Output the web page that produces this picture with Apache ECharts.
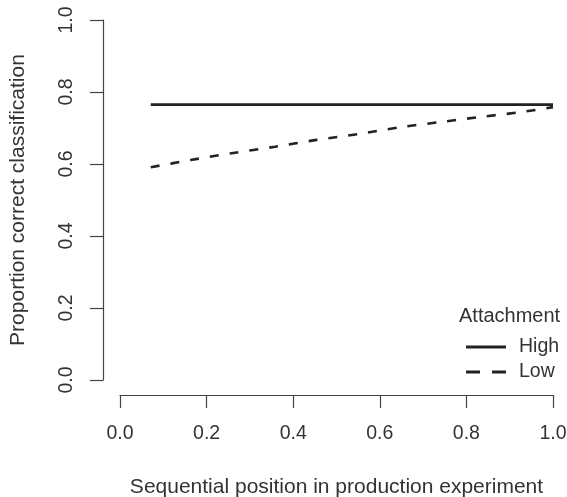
<!DOCTYPE html>
<html>
<head>
<meta charset="utf-8">
<script src="https://cdn.jsdelivr.net/npm/echarts@6/dist/echarts.min.js"></script>
<style>
  html, body { margin: 0; padding: 0; background: #fff; }
  #chart { width: 567px; height: 497px; }
</style>
</head>
<body>
<div id="chart"></div>
<script>
// 读图得到的数据
const seriesNames = ['High', 'Low']
const highX = [0.071, 1.0]
const highY = [0.765, 0.765]
const lowX = [0.071, 0.163, 0.258, 0.358, 0.454, 0.550, 0.647, 0.743, 0.835, 0.931, 1.0]
const lowY = [0.591, 0.611, 0.630, 0.648, 0.667, 0.683, 0.702, 0.717, 0.731, 0.745, 0.758]

const font = '"Liberation Sans", Arial, sans-serif'
const textColor = '#333'
const axisColor = '#444'

const zip = (xs, ys) => xs.map((x, i) => [x, ys[i]])

const axisCommon = {
  type: 'value',
  min: 0,
  max: 1,
  interval: 0.2,
  splitLine: { show: false },
  axisLine: { show: true, onZero: false, lineStyle: { color: axisColor, width: 1.2 } },
  axisTick: { show: true, length: 13, lineStyle: { color: axisColor, width: 1.2 } },
  nameLocation: 'middle',
  nameTextStyle: { color: textColor, fontSize: 21, fontFamily: font }
}

const option = {
  animation: false,
  backgroundColor: '#fff',
  grid: {
    left: 120, right: 14, top: 20, bottom: 117,
    containLabel: false,
    outerBoundsMode: 'none'
  },
  title: {
    text: 'Attachment',
    left: 454,
    top: 301,
    textStyle: { color: textColor, fontSize: 20, fontWeight: 'normal', fontFamily: font }
  },
  legend: {
    data: [
      { name: seriesNames[0], icon: 'path://M0,0h40v3h-40z' },
      { name: seriesNames[1], icon: 'path://M0,0h14v3h-14z M26,0h14v3h-14z' }
    ],
    orient: 'vertical',
    left: 461,
    top: 332,
    itemWidth: 40,
    itemHeight: 3,
    itemGap: 5,
    textStyle: { color: textColor, fontSize: 19.5, fontFamily: font, padding: [0, 0, 0, 8] }
  },
  xAxis: Object.assign({}, axisCommon, {
    offset: 15,
    name: 'Sequential position in production experiment',
    nameGap: 82,
    axisLabel: {
      color: textColor, fontSize: 19.5, fontFamily: font, margin: 29,
      formatter: v => v.toFixed(1)
    }
  }),
  yAxis: Object.assign({}, axisCommon, {
    offset: 17,
    name: 'Proportion correct classification',
    nameGap: 74,
    axisLabel: {
      color: textColor, fontSize: 19.5, fontFamily: font, margin: 26, rotate: 90,
      formatter: v => v.toFixed(1)
    }
  }),
  series: [
    {
      name: seriesNames[0],
      type: 'line',
      symbol: 'none',
      data: zip(highX, highY),
      lineStyle: { color: '#222', width: 2.6, type: 'solid' },
      itemStyle: { color: '#222' }
    },
    {
      name: seriesNames[1],
      type: 'line',
      symbol: 'none',
      smooth: 0.3,
      data: zip(lowX, lowY),
      lineStyle: { color: '#222', width: 2.6, type: [9, 11] },
      itemStyle: { color: '#222' }
    }
  ]
}

const chart = echarts.init(document.getElementById('chart'), null, { renderer: 'canvas' })
chart.setOption(option)
</script>
</body>
</html>
